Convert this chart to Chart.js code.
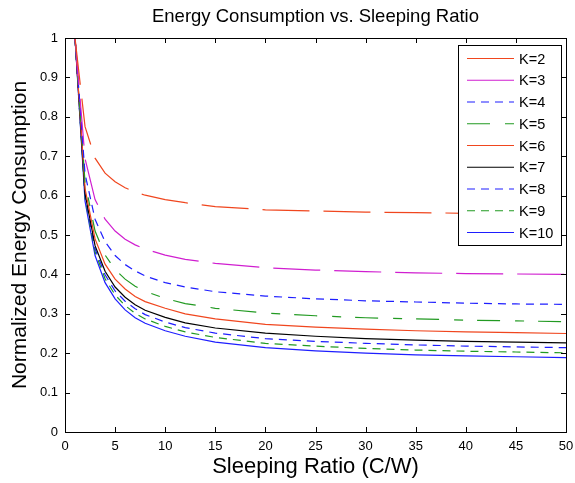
<!DOCTYPE html>
<html><head><meta charset="utf-8">
<script src="https://cdn.jsdelivr.net/npm/chart.js@4.4.0/dist/chart.umd.min.js"></script>
<style>html,body{margin:0;padding:0;background:#fff;overflow:hidden;}</style>
</head><body>
<canvas id="c" width="575" height="483"></canvas>
<script>
// ---- data ----
const sleepingRatio = [1, 2, 3, 4, 5, 6, 7, 8, 10, 12, 15, 20, 25, 30, 35, 40, 45, 50];
const k2  = [1, 0.775, 0.695, 0.657, 0.635, 0.620, 0.609, 0.601, 0.590, 0.582, 0.572, 0.564, 0.561, 0.558, 0.557, 0.555, 0.554, 0.553];
const k3  = [1, 0.694, 0.590, 0.540, 0.510, 0.489, 0.475, 0.464, 0.449, 0.438, 0.428, 0.417, 0.411, 0.407, 0.404, 0.402, 0.401, 0.400];
const k4  = [1, 0.655, 0.540, 0.483, 0.448, 0.425, 0.409, 0.396, 0.379, 0.368, 0.356, 0.345, 0.338, 0.333, 0.330, 0.327, 0.325, 0.324];
const k5  = [1, 0.633, 0.510, 0.449, 0.412, 0.388, 0.370, 0.357, 0.339, 0.326, 0.314, 0.302, 0.295, 0.290, 0.287, 0.284, 0.282, 0.280];
const k6  = [1, 0.618, 0.490, 0.426, 0.388, 0.363, 0.344, 0.331, 0.314, 0.300, 0.287, 0.273, 0.266, 0.261, 0.257, 0.254, 0.252, 0.250];
const k7  = [1, 0.605, 0.473, 0.408, 0.368, 0.342, 0.323, 0.309, 0.291, 0.277, 0.264, 0.251, 0.243, 0.237, 0.233, 0.230, 0.228, 0.226];
const k8  = [1, 0.599, 0.465, 0.399, 0.358, 0.332, 0.313, 0.298, 0.279, 0.265, 0.251, 0.237, 0.230, 0.225, 0.221, 0.218, 0.216, 0.214];
const k9  = [1, 0.593, 0.457, 0.389, 0.348, 0.321, 0.301, 0.287, 0.268, 0.254, 0.240, 0.225, 0.218, 0.212, 0.208, 0.205, 0.203, 0.201];
const k10 = [1, 0.586, 0.448, 0.379, 0.338, 0.310, 0.290, 0.276, 0.257, 0.243, 0.228, 0.214, 0.206, 0.200, 0.196, 0.193, 0.191, 0.189];
const seriesLabels = ['K=2', 'K=3', 'K=4', 'K=5', 'K=6', 'K=7', 'K=8', 'K=9', 'K=10'];
const xTicks = [0, 5, 10, 15, 20, 25, 30, 35, 40, 45, 50];
const yTicks = [0, 0.1, 0.2, 0.3, 0.4, 0.5, 0.6, 0.7, 0.8, 0.9, 1];
const chartTitle = 'Energy Consumption vs. Sleeping Ratio';
const xTitle = 'Sleeping Ratio (C/W)';
const yTitle = 'Normalized Energy Consumption';

// ---- styles ----
const RED = '#f0461e', MAG = '#d01ed0', BLUE = '#1e1eff', GREEN = '#229a22', BLACK = '#000000';
const styles = [
  {c: RED,   d: [47, 14]},
  {c: MAG,   d: [47, 14]},
  {c: BLUE,  d: [8, 6]},
  {c: GREEN, d: [23, 15, 9, 14]},
  {c: RED,   d: []},
  {c: BLACK, d: []},
  {c: BLUE,  d: [8, 6]},
  {c: GREEN, d: [8, 6]},
  {c: BLUE,  d: []}
];
const allSeries = [k2, k3, k4, k5, k6, k7, k8, k9, k10];
const FONT = '"Liberation Sans", Arial, Helvetica, sans-serif';

const datasets = allSeries.map((vals, i) => ({
  label: seriesLabels[i],
  data: sleepingRatio.map((x, j) => ({x: x, y: vals[j]})),
  borderColor: styles[i].c,
  borderDash: styles[i].d,
  borderWidth: 1.2,
  pointRadius: 0,
  tension: 0,
  fill: false
}));

const framePlugin = {
  id: 'frame',
  afterDraw(chart) {
    const {ctx, chartArea: a, scales} = chart;
    const xs = scales.x, ys = scales.y;
    ctx.save();
    ctx.strokeStyle = '#000';
    ctx.lineWidth = 1;
    ctx.setLineDash([]);
    ctx.strokeRect(a.left + 0.5, a.top + 0.5, a.right - a.left, a.bottom - a.top);
    const tl = 5;
    ctx.beginPath();
    xTicks.forEach(v => {
      const p = Math.round(xs.getPixelForValue(v)) + 0.5;
      ctx.moveTo(p, a.bottom); ctx.lineTo(p, a.bottom - tl);
      ctx.moveTo(p, a.top); ctx.lineTo(p, a.top + tl);
    });
    yTicks.forEach(v => {
      const p = Math.round(ys.getPixelForValue(v)) + 0.5;
      ctx.moveTo(a.left, p); ctx.lineTo(a.left + tl, p);
      ctx.moveTo(a.right, p); ctx.lineTo(a.right - tl, p);
    });
    ctx.stroke();
    ctx.fillStyle = '#000';
    ctx.font = '18.5px ' + FONT;
    ctx.textAlign = 'center';
    ctx.textBaseline = 'middle';
    ctx.fillText(chartTitle, (a.left + a.right) / 2, 17);
    const lx = 458.5, ly = 45.5, lw = 103, lh = 200;
    ctx.fillStyle = '#fff';
    ctx.fillRect(lx, ly, lw, lh);
    ctx.strokeStyle = '#000';
    ctx.strokeRect(lx, ly, lw, lh);
    ctx.font = '14.5px ' + FONT;
    ctx.textAlign = 'left';
    chart.data.datasets.forEach((ds, i) => {
      const yy = 58.5 + i * 21.75;
      ctx.strokeStyle = ds.borderColor;
      ctx.lineWidth = 1.2;
      ctx.setLineDash(ds.borderDash || []);
      ctx.beginPath();
      ctx.moveTo(467, yy); ctx.lineTo(514, yy);
      ctx.stroke();
      ctx.setLineDash([]);
      ctx.fillStyle = '#000';
      ctx.fillText(ds.label, 519, yy + 1);
    });
    ctx.restore();
  }
};

new Chart(document.getElementById('c'), {
  type: 'line',
  data: {datasets: datasets},
  options: {
    responsive: false,
    animation: false,
    events: [],
    layout: {padding: {top: 38, right: 9, bottom: 0, left: 0}},
    plugins: {legend: {display: false}, title: {display: false}, tooltip: {enabled: false}},
    scales: {
      x: {
        type: 'linear', min: 0, max: 50,
        afterFit: s => { s.height = 51; s.paddingRight = 0; s.paddingLeft = 0; },
        afterBuildTicks: s => { s.ticks = xTicks.map(v => ({value: v})); },
        grid: {display: false, drawTicks: false},
        border: {display: false},
        ticks: {color: '#000', padding: 7, maxRotation: 0, font: {family: FONT, size: 13}, callback: v => String(v)},
        title: {display: true, text: xTitle, color: '#000', font: {family: FONT, size: 22}, padding: {top: 0, bottom: 3}}
      },
      y: {
        type: 'linear', min: 0, max: 1,
        afterFit: s => { s.width = 65; s.paddingTop = 0; s.paddingBottom = 0; },
        afterBuildTicks: s => { s.ticks = yTicks.map(v => ({value: v})); },
        grid: {display: false, drawTicks: false},
        border: {display: false},
        ticks: {color: '#000', padding: 7, font: {family: FONT, size: 13}, callback: v => String(Math.round(v * 10) / 10)},
        title: {display: true, text: yTitle, color: '#000', font: {family: FONT, size: 21}, padding: {top: 8, bottom: 0}}
      }
    }
  },
  plugins: [framePlugin]
});
</script>
</body></html>
